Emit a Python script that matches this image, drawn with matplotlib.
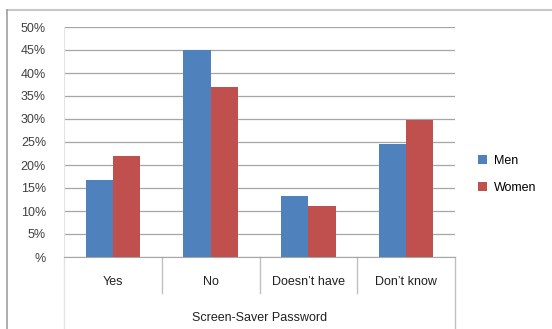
import numpy as np
import matplotlib.pyplot as plt
from matplotlib.lines import Line2D

categories = ["Yes", "No", "Doesn\u2019t have", "Don\u2019t know"]
men = [16.8, 45.0, 13.3, 24.5]
women = [22.0, 37.0, 11.0, 29.8]
yticks = [0, 5, 10, 15, 20, 25, 30, 35, 40, 45, 50]
ytick_labels = ["%"] + ["%d%%" % t for t in yticks[1:]]
axis_title = "Screen-Saver Password"

plt.rcParams['font.family'] = ['Liberation Sans', 'DejaVu Sans']

fig = plt.figure(figsize=(5.52, 3.29), dpi=100)
ax = fig.add_axes([64/552, 72/329, 391/552, 230/329])

x = np.arange(len(categories))
w = 0.28
ax.bar(x - w/2, men, w, color='#4F81BD', label='Men', zorder=3)
ax.bar(x + w/2, women, w, color='#C0504D', label='Women', zorder=3)

ax.set_xlim(-0.5, 3.5)
ax.set_ylim(0, 50)
ax.set_yticks(yticks)
ax.set_yticklabels(ytick_labels, fontsize=9, color='#404040')
ax.tick_params(axis='y', length=0, pad=13)
ax.set_xticks([])
ax.grid(axis='y', color='#a6a6a6', linewidth=0.9, zorder=0)
for s in ['top', 'right']:
    ax.spines[s].set_visible(False)
ax.spines['left'].set_color('#e4e4e4')
ax.spines['bottom'].set_color('#a6a6a6')

# category labels and dividers below the axis
trans = ax.get_xaxis_transform()
for i, c in enumerate(categories):
    ax.text(i, -0.107, c, transform=trans, ha='center', va='center',
            fontsize=9, color='#202020')
for xs in [0.5, 1.5, 2.5]:
    ax.add_line(Line2D([xs, xs], [0, -0.157], transform=trans,
                       color='#c0c0c0', linewidth=1, clip_on=False))
ax.add_line(Line2D([-0.5, -0.5], [0, -0.32], transform=trans,
                   color='#e4e4e4', linewidth=1, clip_on=False))
ax.add_line(Line2D([3.5, 3.5], [0, -0.32], transform=trans,
                   color='#c0c0c0', linewidth=1, clip_on=False))
ax.text(1.5, -0.265, axis_title, transform=trans, ha='center', va='center',
        fontsize=9, color='#202020')

leg = ax.legend(loc='center left', bbox_to_anchor=(1.03, 0.36), frameon=False,
                fontsize=9, handlelength=0.7, handleheight=0.7,
                labelspacing=1.2, handletextpad=0.6)

# outer chart border
fig.add_artist(Line2D([7/552, 1], [1 - 10/329, 1 - 10/329],
                      color='#c8c8c8', linewidth=1.5))
fig.add_artist(Line2D([7/552, 7/552], [0, 1 - 10/329],
                      color='#a0a0a0', linewidth=1.2))

fig.savefig('out.png', dpi=100)
